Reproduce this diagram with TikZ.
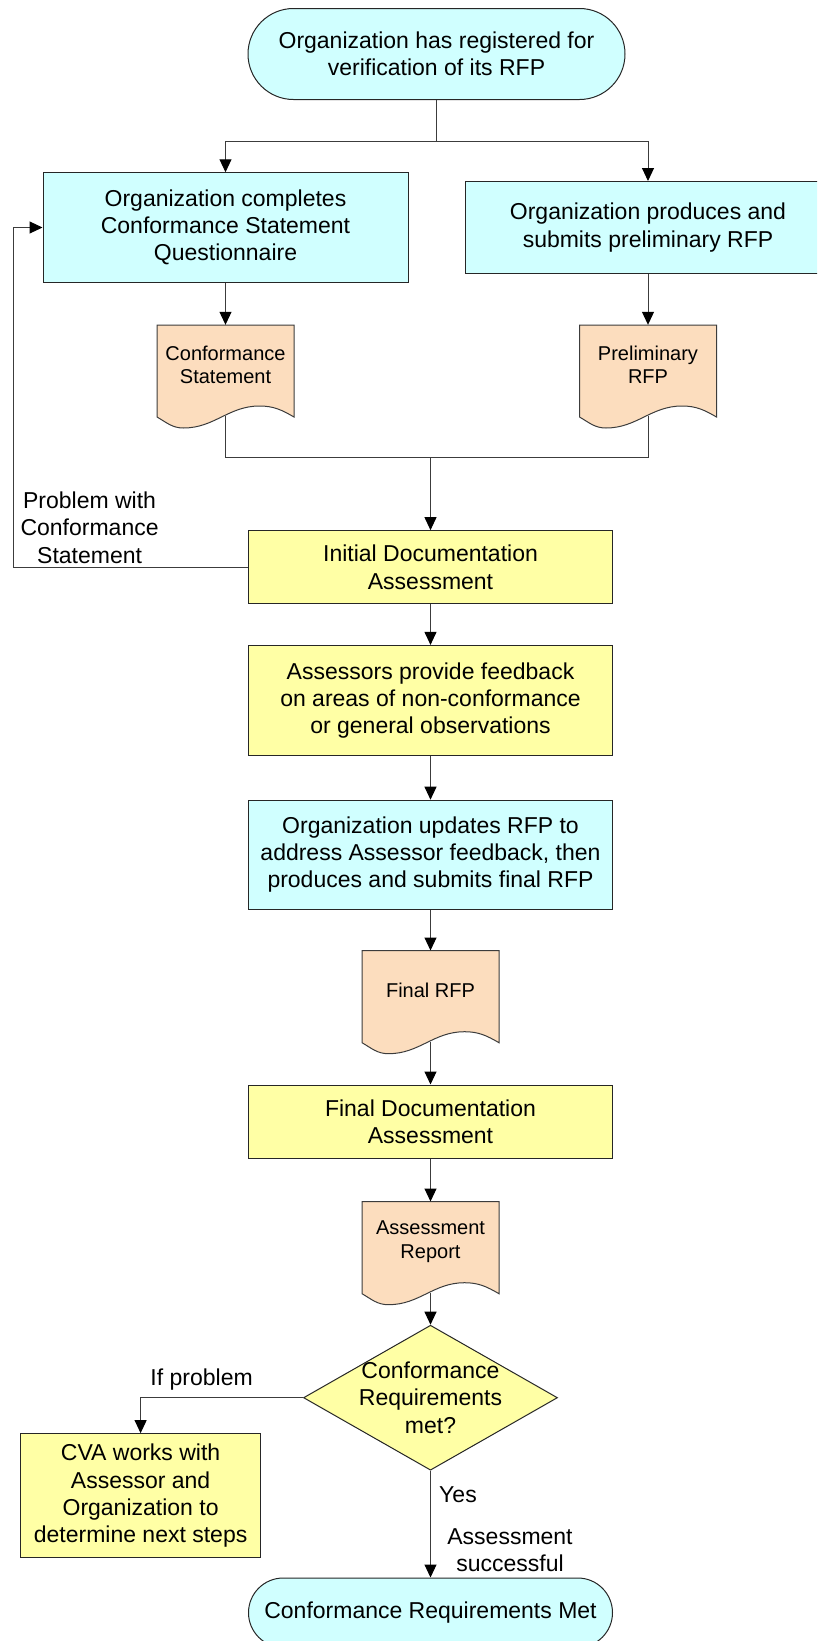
\documentclass[tikz,border=0pt]{standalone}
\usepackage{fontspec}
\setmainfont{Liberation Sans}
\usetikzlibrary{arrows.meta,shapes.misc,shapes.geometric,calc,backgrounds}
\definecolor{cyanfill}{RGB}{208,255,255}
\definecolor{yelfill}{RGB}{255,255,165}
\definecolor{peachfill}{RGB}{252,221,190}
\definecolor{edgecol}{RGB}{60,60,60}
\newcommand\bigf{\fontsize{23}{27.3}\selectfont}
\newcommand\smallf{\fontsize{20}{23.3}\selectfont}
\newcommand\docout[1]{%
  \path[draw=edgecol,line width=1pt,fill=peachfill]
    ($(#1.center)+(-68.5,40)$) -- ($(#1.center)+(68.5,40)$) -- ($(#1.center)+(68.5,-52)$)
    to[out=150,in=0] ($(#1.center)+(34,-41)$)
    to[out=180,in=0] ($(#1.center)+(-42,-63)$)
    to[out=180,in=-30] ($(#1.center)+(-68.5,-52)$) -- cycle;
  \coordinate (#1-b) at ($(#1.center)+(0,-51)$);}
\begin{document}
\begin{tikzpicture}[x=1pt,y=1pt,
  box/.style={rectangle,draw=black!85,line width=1pt,align=center,font=\bigf,inner sep=0pt},
  cbox/.style={box,fill=cyanfill},
  ybox/.style={box,fill=yelfill},
  term/.style={rounded rectangle,draw=black!85,line width=1pt,fill=cyanfill,align=center,font=\bigf,inner sep=0pt},
  docnode/.style={rectangle,draw=none,align=center,font=\smallf,minimum width=137pt,minimum height=80pt,inner sep=0pt},
  lbl/.style={align=center,font=\bigf,inner sep=0pt},
  conn/.style={draw=edgecol,line width=1pt},
  arr/.style={conn,-{Triangle[length=13pt,width=12pt,fill=black,color=black]}}]
\clip (0,0) rectangle (817,-1641);

% nodes
\node[term,minimum width=377pt,minimum height=91pt] (top) at (436.5,-54) {Organization has registered for\\verification of its RFP};
\node[cbox,minimum width=365pt,minimum height=109.5pt] (lb) at (225.5,-227.5) {Organization completes\\Conformance Statement\\Questionnaire};
\node[cbox,minimum width=366pt,minimum height=92pt] (rb) at (648,-227.5) {Organization produces and\\submits preliminary RFP};
\node[docnode] (cs) at (225.5,-365) {Conformance\\Statement};
\node[docnode] (pr) at (648,-365) {Preliminary\\RFP};
\node[ybox,minimum width=364pt,minimum height=73.3pt] (ida) at (430.5,-567.3) {Initial Documentation\\Assessment};
\node[ybox,minimum width=364pt,minimum height=110pt] (afb) at (430.5,-700.4) {Assessors provide feedback\\on areas of non-conformance\\or general observations};
\node[cbox,minimum width=364pt,minimum height=109pt] (oup) at (430.5,-854.7) {Organization updates RFP to\\address Assessor feedback, then\\produces and submits final RFP};
\node[docnode] (frfp) at (430.5,-990.7) {Final RFP};
\node[ybox,minimum width=364pt,minimum height=73pt] (fda) at (430.5,-1121.5) {Final Documentation\\Assessment};
\node[docnode] (ar) at (430.5,-1241.7) {Assessment\\Report};
\node[diamond,draw=black!85,line width=1pt,fill=yelfill,align=center,font=\bigf,aspect=1.75,inner sep=-8pt,minimum width=254pt,minimum height=145pt] (cr) at (430.5,-1397.7) {Conformance\\Requirements\\met?};
\node[ybox,minimum width=239.6pt,minimum height=124.3pt] (cva) at (140.6,-1495.8) {CVA works with\\Assessor and\\Organization to\\determine next steps};
\node[term,minimum width=364pt,minimum height=69.4pt] (end) at (430.5,-1612.7) {Conformance Requirements Met};

% document outlines
\begin{pgfonlayer}{background}
\docout{cs}
\docout{pr}
\docout{frfp}
\docout{ar}
\end{pgfonlayer}

% labels
\node[lbl] (lprob) at (89.6,-527.7) {Problem with\\Conformance\\Statement};
\node[lbl] (lif) at (201.6,-1380) {If problem};
\node[lbl] (lyes) at (458,-1495) {Yes};
\node[lbl] (lsucc) at (510,-1550.3) {Assessment\\successful};

% coordinates
\coordinate (j1) at (436.5,-141);
\coordinate (j2) at (430.5,-457.3);
\coordinate (lp1) at (13,-567.3);
\coordinate (lp2) at (13,-227.5);

% connectors
\draw[conn] (top.south) -- (j1);
\draw[arr] (j1) -| (lb.north);
\draw[arr] (j1) -| (rb.north);
\draw[arr] (lb.south) -- (cs.north);
\draw[arr] (rb.south) -- (pr.north);
\draw[conn] (cs-b) |- (j2);
\draw[conn] (pr-b) |- (j2);
\draw[arr] (j2) -- (ida.north);
\draw[arr] (ida.west) -- (lp1) -- (lp2) -- (lb.west);
\draw[arr] (ida.south) -- (afb.north);
\draw[arr] (afb.south) -- (oup.north);
\draw[arr] (oup.south) -- (frfp.north);
\draw[arr] (frfp-b) -- (fda.north);
\draw[arr] (fda.south) -- (ar.north);
\draw[arr] (ar-b) -- (cr.north);
\draw[arr] (cr.west) -| (cva.north);
\draw[arr] (cr.south) -- (end.north);
\end{tikzpicture}
\end{document}
